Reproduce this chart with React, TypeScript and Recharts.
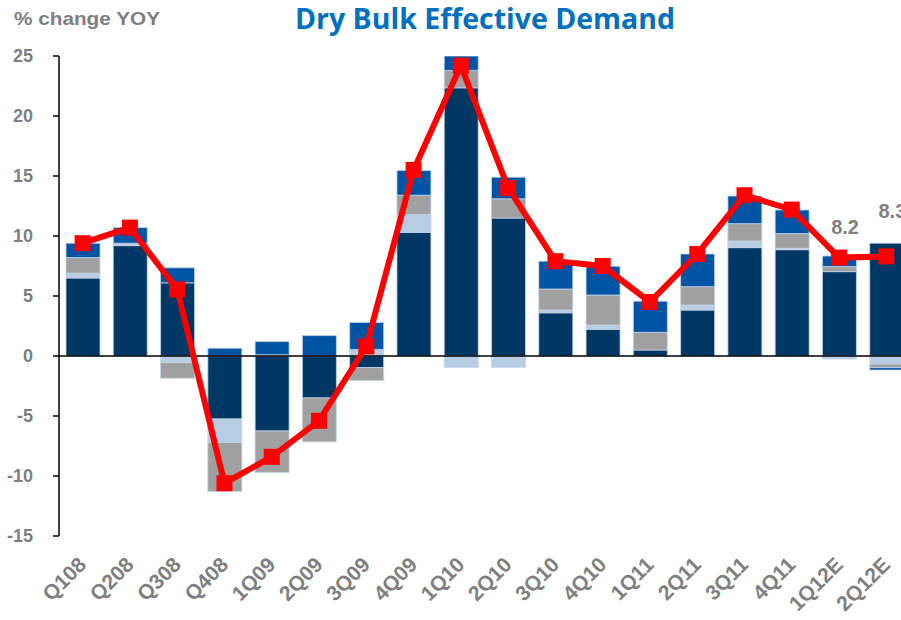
import { ComposedChart, Bar, Line, XAxis, YAxis, ReferenceLine, LabelList } from 'recharts';

const quarters = ['Q108', 'Q208', 'Q308', 'Q408', '1Q09', '2Q09', '3Q09', '4Q09', '1Q10', '2Q10', '3Q10', '4Q10', '1Q11', '2Q11', '3Q11', '4Q11', '1Q12E', '2Q12E'];

// four stacked contributions (bottom to top when positive)
const navy = [6.5, 9.2, 6.1, -5.25, -6.25, -3.5, -0.97, 10.3, 22.35, 11.5, 3.6, 2.22, 0.5, 3.83, 9.03, 8.86, 7.03, 9.4];
const paleBlue = [0.4, 0.2, -0.55, -1.95, 0.1, 0, 0.55, 1.5, -0.95, -0.95, 0.23, 0.36, 0, 0.42, 0.55, 0.11, -0.25, -0.67];
const grey = [1.3, 0, -1.3, -4.1, -3.45, -3.65, -1.08, 1.6, 1.45, 1.6, 1.75, 2.5, 1.47, 1.53, 1.45, 1.23, 0.42, -0.3];
const midBlue = [1.2, 1.3, 1.25, 0.65, 1.1, 1.7, 2.25, 2.05, 1.3, 1.8, 2.32, 2.4, 2.6, 2.72, 2.3, 1.97, 0.88, -0.2];

// effective demand growth (red line)
const demand = [9.4, 10.7, 5.55, -10.6, -8.4, -5.4, 0.8, 15.5, 24.2, 14.0, 7.9, 7.5, 4.5, 8.5, 13.4, 12.2, 8.2, 8.3];
const demandLabels = ['', '', '', '', '', '', '', '', '', '', '', '', '', '', '', '', '8.2', '8.3'];

const yTicks = [-15, -10, -5, 0, 5, 10, 15, 20, 25];

const data = quarters.map((q, i) => ({
  q,
  navy: navy[i],
  paleBlue: paleBlue[i],
  grey: grey[i],
  midBlue: midBlue[i],
  demand: demand[i],
  label: demandLabels[i],
}));

const GREY_TEXT = '#7F7F7F';
const EDGE = '#C5D4E9';

function XTick({ x, y, payload }: any) {
  const tx = x + 5;
  const ty = y + 22;
  return (
    <text
      x={tx}
      y={ty}
      transform={`rotate(-45, ${tx}, ${ty})`}
      textAnchor="end"
      fill={GREY_TEXT}
      fontSize={21}
      fontWeight="bold"
      fontFamily="Liberation Sans, Arial, sans-serif"
    >
      {payload.value}
    </text>
  );
}

function SquareDot({ cx, cy }: any) {
  if (cx == null || cy == null) return null;
  return <rect x={cx - 8} y={cy - 8} width={16} height={16} fill="#FF0000" />;
}

function EndLabel({ x, y, value, index }: any) {
  if (!value) return null;
  const lift = index === quarters.length - 1 ? 38 : 24;
  return (
    <text
      x={x + 6}
      y={y - lift}
      textAnchor="middle"
      fill={GREY_TEXT}
      fontSize={20}
      fontWeight="bold"
      fontFamily="Liberation Sans, Arial, sans-serif"
    >
      {value}
    </text>
  );
}

export default function App() {
  return (
    <div style={{ position: 'absolute', left: 0, top: 0, width: 901, height: 620, overflow: 'hidden', background: '#fff' }}>
      <svg width={901} height={50} style={{ position: 'absolute', left: 0, top: 0 }}>
        <text
          x={14}
          y={25}
          fill={GREY_TEXT}
          fontSize={19}
          fontWeight="bold"
          fontFamily="Liberation Sans, Arial, sans-serif"
          textLength={146}
          lengthAdjust="spacingAndGlyphs"
        >
          % change YOY
        </text>
        <text
          x={295}
          y={29}
          fill="#0070C0"
          fontSize={28}
          fontWeight="bold"
          fontFamily="Open Sans, Noto Sans, sans-serif"
          textLength={380}
          lengthAdjust="spacingAndGlyphs"
        >
          Dry Bulk Effective Demand
        </text>
      </svg>
      <ComposedChart
        width={910}
        height={620}
        data={data}
        stackOffset="sign"
        margin={{ top: 56, right: 0, bottom: 0, left: 0 }}
        barCategoryGap={0}
      >
        <XAxis
          dataKey="q"
          interval={0}
          axisLine={false}
          tickLine={false}
          height={84}
          tick={<XTick />}
        />
        <YAxis
          domain={[-15, 25]}
          ticks={yTicks}
          width={59}
          axisLine={{ stroke: '#000', strokeWidth: 1.5 }}
          tickLine={{ stroke: '#000', strokeWidth: 1.5 }}
          tickSize={6}
          tickMargin={20}
          tick={{ fill: GREY_TEXT, fontSize: 18, fontWeight: 'bold', fontFamily: 'Liberation Sans, Arial, sans-serif' }}
          allowDataOverflow
        />
        <Bar dataKey="navy" stackId="s" fill="#003865" stroke={EDGE} strokeWidth={0.8} barSize={34} isAnimationActive={false} />
        <Bar dataKey="paleBlue" stackId="s" fill="#B8CCE4" stroke={EDGE} strokeWidth={0.8} barSize={34} isAnimationActive={false} />
        <Bar dataKey="grey" stackId="s" fill="#A0A0A0" stroke={EDGE} strokeWidth={0.8} barSize={34} isAnimationActive={false} />
        <Bar dataKey="midBlue" stackId="s" fill="#0054A4" stroke={EDGE} strokeWidth={0.8} barSize={34} isAnimationActive={false} />
        <ReferenceLine y={0} stroke="#000" strokeWidth={1.5} />
        <Line
          dataKey="demand"
          type="linear"
          stroke="#FF0000"
          strokeWidth={6}
          dot={<SquareDot />}
          activeDot={false}
          isAnimationActive={false}
        >
          <LabelList dataKey="label" content={<EndLabel />} />
        </Line>
      </ComposedChart>
    </div>
  );
}
